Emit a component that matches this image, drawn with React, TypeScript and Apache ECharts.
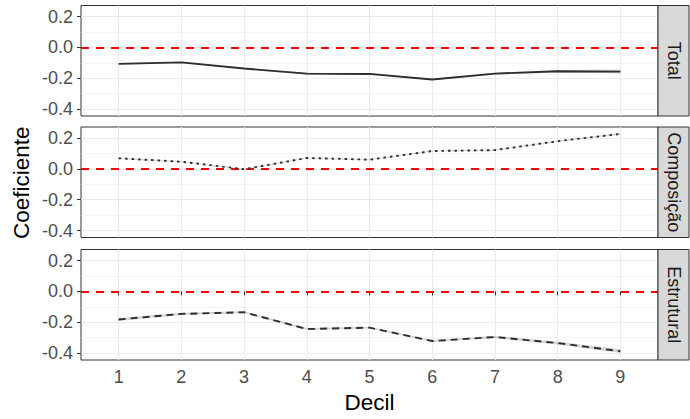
import React, { useEffect, useRef } from "react";
import * as echarts from "echarts";

// ---- Data ----
const deciles = [1, 2, 3, 4, 5, 6, 7, 8, 9];
const panelNames = ["Total", "Composição", "Estrutural"];
const totalValues = [-0.107, -0.097, -0.137, -0.17, -0.172, -0.208, -0.17, -0.155, -0.157];
const composicaoValues = [0.069, 0.047, -0.002, 0.071, 0.06, 0.116, 0.122, 0.18, 0.227];
const estruturalValues = [-0.182, -0.146, -0.135, -0.244, -0.235, -0.322, -0.296, -0.335, -0.388];
const totalHalfWidth = [0.006, 0.004, 0.004, 0.005, 0.005, 0.005, 0.006, 0.008, 0.013];
const composicaoHalfWidth = [0.004, 0.003, 0.003, 0.003, 0.003, 0.003, 0.004, 0.004, 0.005];
const estruturalHalfWidth = [0.01, 0.007, 0.006, 0.006, 0.006, 0.007, 0.008, 0.009, 0.012];
const yMajorTicks = [-0.4, -0.2, 0, 0.2];
const yMinorTicks = [-0.3, -0.1, 0.1];
const referenceValue = 0;
const xTitle = "Decil";
const yTitle = "Coeficiente";

const panelValues = [totalValues, composicaoValues, estruturalValues];
const panelHalfWidths = [totalHalfWidth, composicaoHalfWidth, estruturalHalfWidth];

// ---- Layout / style ----
const FONT = "'Liberation Sans', Arial, Helvetica, sans-serif";
const PANEL_LEFT = 81;
const PANEL_WIDTH = 577;
const PANEL_TOPS = [5.5, 127, 249.5];
const PANEL_H = 110.5;
const STRIP_W = 31;
const X_MIN = 0.4;
const X_MAX = 9.6;
const Y_MIN = -0.445;
const Y_MAX = 0.272;
const lineTypes: any[] = ["solid", [2.5, 4], [7, 5]];

export default function App() {
  const ref = useRef<HTMLDivElement>(null);

  useEffect(() => {
    if (!ref.current) return;
    const chart = echarts.init(ref.current, null, { renderer: "svg" });

    const grid = PANEL_TOPS.map((top) => ({
      left: PANEL_LEFT,
      top,
      width: PANEL_WIDTH,
      height: PANEL_H,
      show: true,
      backgroundColor: "#ffffff",
      borderColor: "#333333",
      borderWidth: 1,
    }));

    const xAxis = PANEL_TOPS.map((_, i) => ({
      type: "value",
      gridIndex: i,
      min: X_MIN,
      max: X_MAX,
      axisLine: { show: false },
      axisTick: {
        show: i === 2,
        customValues: deciles,
        length: 4,
        lineStyle: { color: "#333333", width: 1 },
      },
      axisLabel: {
        show: i === 2,
        customValues: deciles,
        color: "#4d4d4d",
        fontSize: 18,
        fontFamily: FONT,
        margin: 8,
      },
      splitLine: { show: true, lineStyle: { color: "#ebebeb", width: 1.1 } },
    }));

    const yAxis: any[] = [];
    PANEL_TOPS.forEach((_, i) => {
      yAxis.push({
        type: "value",
        gridIndex: i,
        min: Y_MIN,
        max: Y_MAX,
        axisLine: { show: false },
        axisTick: {
          show: true,
          customValues: yMajorTicks,
          length: 4,
          lineStyle: { color: "#333333", width: 1 },
        },
        axisLabel: {
          customValues: yMajorTicks,
          formatter: (v: number) => v.toFixed(1),
          color: "#4d4d4d",
          fontSize: 18,
          fontFamily: FONT,
          margin: 8,
        },
        splitLine: { show: true, lineStyle: { color: "#ebebeb", width: 1.1 } },
      });
      yAxis.push({
        type: "value",
        gridIndex: i,
        position: "right",
        min: Y_MIN,
        max: Y_MAX,
        axisLine: { show: false },
        axisTick: { show: false, customValues: yMinorTicks },
        axisLabel: { show: false, customValues: yMinorTicks },
        splitLine: { show: true, lineStyle: { color: "#ebebeb", width: 0.6 } },
      });
    });

    const series: any[] = [];
    panelValues.forEach((values, i) => {
      const half = panelHalfWidths[i];
      series.push({
        type: "custom",
        xAxisIndex: i,
        yAxisIndex: 2 * i,
        silent: true,
        z: 2,
        data: [[deciles[0], values[0]]],
        renderItem: (_params: any, api: any) => {
          const upper = deciles.map((d, j) => api.coord([d, values[j] + half[j]]));
          const lower = deciles
            .map((d, j) => api.coord([d, values[j] - half[j]]))
            .reverse();
          return {
            type: "polygon",
            shape: { points: upper.concat(lower) },
            style: { fill: "rgba(153,153,153,0.4)", stroke: "none" },
          };
        },
      });
      series.push({
        type: "line",
        xAxisIndex: i,
        yAxisIndex: 2 * i,
        data: deciles.map((d, j) => [d, values[j]]),
        symbol: "none",
        silent: true,
        z: 3,
        lineStyle: { color: "#2e2e2e", width: 1.9, type: lineTypes[i], cap: "butt" },
        markLine: {
          silent: true,
          symbol: "none",
          label: { show: false },
          z: 1,
          lineStyle: { color: "#ff0000", width: 1.8, type: [8, 7] },
          data: [{ yAxis: referenceValue }],
        },
      });
    });

    const graphic: any[] = [];
    PANEL_TOPS.forEach((top, i) => {
      graphic.push({
        type: "rect",
        shape: { x: PANEL_LEFT + PANEL_WIDTH, y: top, width: STRIP_W, height: PANEL_H },
        style: { fill: "#d9d9d9", stroke: "#333333", lineWidth: 1 },
        z: 10,
      });
      graphic.push({
        type: "text",
        x: PANEL_LEFT + PANEL_WIDTH + 16,
        y: top + PANEL_H / 2,
        rotation: -Math.PI / 2,
        style: {
          text: panelNames[i],
          fill: "#1a1a1a",
          font: `18px ${FONT}`,
          align: "center",
          verticalAlign: "middle",
        },
        z: 11,
      });
    });
    graphic.push({
      type: "text",
      x: PANEL_LEFT + PANEL_WIDTH / 2,
      y: 402,
      style: {
        text: xTitle,
        fill: "#000000",
        font: `22.5px ${FONT}`,
        align: "center",
        verticalAlign: "middle",
      },
    });
    graphic.push({
      type: "text",
      x: 21,
      y: (PANEL_TOPS[0] + PANEL_TOPS[2] + PANEL_H) / 2,
      rotation: Math.PI / 2,
      style: {
        text: yTitle,
        fill: "#000000",
        font: `22.5px ${FONT}`,
        align: "center",
        verticalAlign: "middle",
      },
    });

    chart.setOption({
      animation: false,
      backgroundColor: "#ffffff",
      grid,
      xAxis,
      yAxis,
      series,
      graphic,
    });

    return () => chart.dispose();
  }, []);

  return (
    <div
      ref={ref}
      style={{ position: "fixed", left: 0, top: 0, width: 690, height: 419 }}
    />
  );
}
